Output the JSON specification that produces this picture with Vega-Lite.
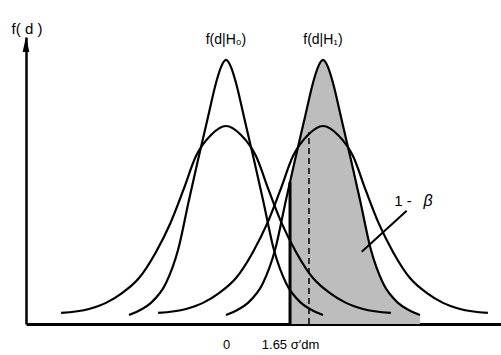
{
  "$schema": "https://vega.github.io/schema/vega-lite/v6.json",
  "width": 475,
  "height": 287,
  "autosize": {"type": "none"},
  "padding": {"left": 26, "top": 37, "right": 0, "bottom": 31},
  "background": "white",
  "config": {"view": {"stroke": null}, "font": "Liberation Sans"},
  "datasets": {
    "curves": [
      {"c": "n0", "x": -2.5, "y": 0.034}, {"c": "n0", "x": -2.2, "y": 0.054}, {"c": "n0", "x": -1.933, "y": 0.08}, {"c": "n0", "x": -1.546, "y": 0.155}, {"c": "n0", "x": -1.237, "y": 0.28}, {"c": "n0", "x": -0.954, "y": 0.47}, {"c": "n0", "x": -0.722, "y": 0.621}, {"c": "n0", "x": -0.464, "y": 0.784}, {"c": "n0", "x": -0.258, "y": 0.913}, {"c": "n0", "x": -0.129, "y": 0.973}, {"c": "n0", "x": 0, "y": 1}, {"c": "n0", "x": 0.129, "y": 0.973}, {"c": "n0", "x": 0.258, "y": 0.913}, {"c": "n0", "x": 0.464, "y": 0.784}, {"c": "n0", "x": 0.722, "y": 0.621}, {"c": "n0", "x": 0.954, "y": 0.47}, {"c": "n0", "x": 1.237, "y": 0.28}, {"c": "n0", "x": 1.546, "y": 0.155}, {"c": "n0", "x": 1.933, "y": 0.08}, {"c": "n0", "x": 2.2, "y": 0.054}, {"c": "n0", "x": 2.5, "y": 0.034},
      {"c": "w0", "x": -4.25, "y": 0.042}, {"c": "w0", "x": -3.531, "y": 0.057}, {"c": "w0", "x": -3.093, "y": 0.08}, {"c": "w0", "x": -2.68, "y": 0.117}, {"c": "w0", "x": -2.242, "y": 0.174}, {"c": "w0", "x": -1.804, "y": 0.273}, {"c": "w0", "x": -1.443, "y": 0.379}, {"c": "w0", "x": -1.108, "y": 0.504}, {"c": "w0", "x": -0.773, "y": 0.636}, {"c": "w0", "x": -0.387, "y": 0.716}, {"c": "w0", "x": 0, "y": 0.75}, {"c": "w0", "x": 0.387, "y": 0.716}, {"c": "w0", "x": 0.773, "y": 0.636}, {"c": "w0", "x": 1.108, "y": 0.504}, {"c": "w0", "x": 1.443, "y": 0.379}, {"c": "w0", "x": 1.804, "y": 0.273}, {"c": "w0", "x": 2.242, "y": 0.174}, {"c": "w0", "x": 2.68, "y": 0.117}, {"c": "w0", "x": 3.093, "y": 0.08}, {"c": "w0", "x": 3.531, "y": 0.057}, {"c": "w0", "x": 4.25, "y": 0.042},
      {"c": "n1", "x": 0, "y": 0.034}, {"c": "n1", "x": 0.3, "y": 0.054}, {"c": "n1", "x": 0.567, "y": 0.08}, {"c": "n1", "x": 0.954, "y": 0.155}, {"c": "n1", "x": 1.263, "y": 0.28}, {"c": "n1", "x": 1.546, "y": 0.47}, {"c": "n1", "x": 1.778, "y": 0.621}, {"c": "n1", "x": 2.036, "y": 0.784}, {"c": "n1", "x": 2.242, "y": 0.913}, {"c": "n1", "x": 2.371, "y": 0.973}, {"c": "n1", "x": 2.5, "y": 1}, {"c": "n1", "x": 2.629, "y": 0.973}, {"c": "n1", "x": 2.758, "y": 0.913}, {"c": "n1", "x": 2.964, "y": 0.784}, {"c": "n1", "x": 3.222, "y": 0.621}, {"c": "n1", "x": 3.454, "y": 0.47}, {"c": "n1", "x": 3.737, "y": 0.28}, {"c": "n1", "x": 4.046, "y": 0.155}, {"c": "n1", "x": 4.433, "y": 0.08}, {"c": "n1", "x": 4.7, "y": 0.054}, {"c": "n1", "x": 5.0, "y": 0.034},
      {"c": "w1", "x": -1.75, "y": 0.042}, {"c": "w1", "x": -1.031, "y": 0.057}, {"c": "w1", "x": -0.593, "y": 0.08}, {"c": "w1", "x": -0.18, "y": 0.117}, {"c": "w1", "x": 0.258, "y": 0.174}, {"c": "w1", "x": 0.696, "y": 0.273}, {"c": "w1", "x": 1.057, "y": 0.379}, {"c": "w1", "x": 1.392, "y": 0.504}, {"c": "w1", "x": 1.727, "y": 0.636}, {"c": "w1", "x": 2.113, "y": 0.716}, {"c": "w1", "x": 2.5, "y": 0.75}, {"c": "w1", "x": 2.887, "y": 0.716}, {"c": "w1", "x": 3.273, "y": 0.636}, {"c": "w1", "x": 3.608, "y": 0.504}, {"c": "w1", "x": 3.943, "y": 0.379}, {"c": "w1", "x": 4.304, "y": 0.273}, {"c": "w1", "x": 4.742, "y": 0.174}, {"c": "w1", "x": 5.18, "y": 0.117}, {"c": "w1", "x": 5.593, "y": 0.08}, {"c": "w1", "x": 6.031, "y": 0.057}, {"c": "w1", "x": 6.75, "y": 0.042}
    ],
    "shade": [
      {"x": 1.65, "y": 0.538}, {"x": 1.778, "y": 0.621}, {"x": 2.036, "y": 0.784}, {"x": 2.242, "y": 0.913}, {"x": 2.371, "y": 0.973}, {"x": 2.5, "y": 1}, {"x": 2.629, "y": 0.973}, {"x": 2.758, "y": 0.913}, {"x": 2.964, "y": 0.784}, {"x": 3.222, "y": 0.621}, {"x": 3.454, "y": 0.47}, {"x": 3.737, "y": 0.28}, {"x": 4.046, "y": 0.155}, {"x": 4.433, "y": 0.08}, {"x": 4.7, "y": 0.054}, {"x": 5.0, "y": 0.034}
    ]
  },
  "layer": [
    {
      "data": {"name": "shade"},
      "mark": {"type": "area", "interpolate": "monotone", "color": "#bdbdbd"},
      "encoding": {
        "x": {"field": "x", "type": "quantitative", "scale": {"domain": [-5.155, 7.088], "nice": false, "zero": false},
          "axis": {"values": [0, 1.65], "labelExpr": "datum.value == 0 ? '0' : '1.65 σ′dm'", "ticks": false, "grid": false, "title": null, "domainColor": "black", "domainWidth": 3, "labelFontSize": 13, "labelColor": "black", "labelPadding": 14, "labelOverlap": false, "labelFont": "Liberation Sans"}},
        "y": {"field": "y", "type": "quantitative", "scale": {"domain": [0, 1.087], "nice": false, "zero": false},
          "axis": {"domain": true, "domainColor": "black", "domainWidth": 2.5, "ticks": false, "labels": false, "grid": false, "title": null}}
      }
    },
    {
      "data": {"name": "curves"},
      "mark": {"type": "line", "interpolate": "monotone", "color": "black", "strokeWidth": 2.2},
      "encoding": {
        "x": {"field": "x", "type": "quantitative", "scale": {"domain": [-5.155, 7.088], "nice": false, "zero": false}},
        "y": {"field": "y", "type": "quantitative", "scale": {"domain": [0, 1.087], "nice": false, "zero": false}},
        "detail": {"field": "c", "type": "nominal"}
      }
    },
    {
      "data": {"values": [{"x": 1.65, "y": 0, "y2": 0.538}]},
      "mark": {"type": "rule", "color": "black", "strokeWidth": 3},
      "encoding": {
        "x": {"field": "x", "type": "quantitative"},
        "y": {"field": "y", "type": "quantitative"},
        "y2": {"field": "y2"}
      }
    },
    {
      "data": {"values": [{"x": 2.139, "y": 0, "y2": 0.727}]},
      "mark": {"type": "rule", "color": "black", "strokeWidth": 1.5, "strokeDash": [6, 4]},
      "encoding": {
        "x": {"field": "x", "type": "quantitative"},
        "y": {"field": "y", "type": "quantitative"},
        "y2": {"field": "y2"}
      }
    },
    {
      "data": {"values": [{"x": 4.657, "y": 0.429, "x2": 3.498, "y2": 0.274}]},
      "mark": {"type": "rule", "color": "black", "strokeWidth": 2},
      "encoding": {
        "x": {"field": "x", "type": "quantitative"},
        "y": {"field": "y", "type": "quantitative"},
        "x2": {"field": "x2"},
        "y2": {"field": "y2"}
      }
    },
    {
      "data": {"values": [{"x": -5.155, "y": 1.0587}]},
      "mark": {"type": "point", "shape": "M-0.45,1L0,-1L0.45,1Z", "size": 225, "filled": true, "color": "black", "opacity": 1},
      "encoding": {
        "x": {"field": "x", "type": "quantitative"},
        "y": {"field": "y", "type": "quantitative"}
      }
    },
    {
      "data": {"values": [{"t": "f(d|H₀)", "x": 0, "y": 1.076}, {"t": "f(d|H₁)", "x": 2.5, "y": 1.076}]},
      "mark": {"type": "text", "fontSize": 14, "color": "black", "align": "center", "baseline": "middle"},
      "encoding": {
        "x": {"field": "x", "type": "quantitative"},
        "y": {"field": "y", "type": "quantitative"},
        "text": {"field": "t"}
      }
    },
    {
      "data": {"values": [{"t": "f( d )", "x": -5.129, "y": 1.117}]},
      "mark": {"type": "text", "fontSize": 15, "color": "black", "align": "center", "baseline": "middle"},
      "encoding": {
        "x": {"field": "x", "type": "quantitative"},
        "y": {"field": "y", "type": "quantitative"},
        "text": {"field": "t"}
      }
    },
    {
      "data": {"values": [{"t": "1 -", "x": 4.562, "y": 0.466}]},
      "mark": {"type": "text", "fontSize": 15, "color": "black", "align": "center", "baseline": "middle"},
      "encoding": {
        "x": {"field": "x", "type": "quantitative"},
        "y": {"field": "y", "type": "quantitative"},
        "text": {"field": "t"}
      }
    },
    {
      "data": {"values": [{"t": "β", "x": 5.206, "y": 0.466}]},
      "mark": {"type": "text", "fontSize": 16, "fontStyle": "italic", "color": "black", "align": "center", "baseline": "middle"},
      "encoding": {
        "x": {"field": "x", "type": "quantitative"},
        "y": {"field": "y", "type": "quantitative"},
        "text": {"field": "t"}
      }
    }
  ]
}
